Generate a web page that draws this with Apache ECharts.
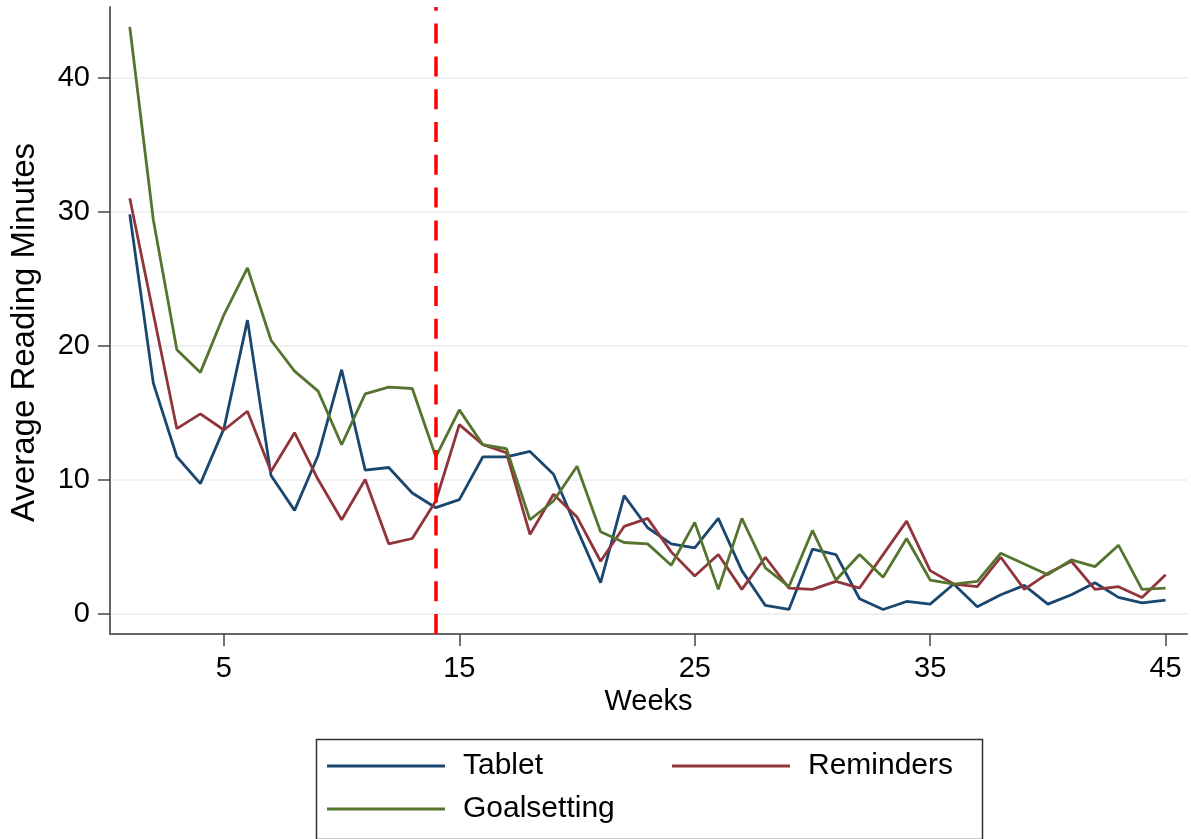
<!DOCTYPE html>
<html>
<head>
<meta charset="utf-8">
<script src="https://cdn.jsdelivr.net/npm/echarts@6/dist/echarts.min.js"></script>
<style>html,body{margin:0;padding:0;background:#fff}#c{width:1191px;height:839px}</style>
</head>
<body>
<div id="c"></div>
<script>
var weeks = [1,2,3,4,5,6,7,8,9,10,11,12,13,14,15,16,17,18,19,20,21,22,23,24,25,26,27,28,29,30,31,32,33,34,35,36,37,38,39,40,41,42,43,44,45];
var tablet = [29.8,17.2,11.7,9.7,13.8,21.9,10.3,7.7,11.8,18.2,10.7,10.9,9.0,7.9,8.5,11.7,11.7,12.1,10.4,6.3,2.3,8.8,6.4,5.2,4.9,7.1,3.2,0.6,0.3,4.8,4.4,1.1,0.3,0.9,0.7,2.2,0.5,1.4,2.1,0.7,1.4,2.3,1.2,0.8,1.0];
var reminders = [31.0,22.4,13.8,14.9,13.7,15.1,10.6,13.5,10.0,7.0,10.0,5.2,5.6,8.4,14.1,12.6,12.0,5.9,8.9,7.2,3.9,6.5,7.1,4.6,2.8,4.4,1.8,4.2,1.9,1.8,2.4,1.9,4.4,6.9,3.2,2.2,2.0,4.2,1.8,3.0,3.9,1.8,2.0,1.2,2.9];
var goalsetting = [43.8,29.4,19.7,18.0,22.3,25.8,20.4,18.1,16.6,12.6,16.4,16.9,16.8,11.7,15.2,12.6,12.3,7.0,8.4,11.0,6.1,5.3,5.2,3.6,6.8,1.8,7.1,3.4,2.0,6.2,2.5,4.4,2.7,5.6,2.5,2.2,2.4,4.5,3.7,2.9,4.0,3.5,5.1,1.8,1.9];
var xTicks = [5,15,25,35,45];
var yTicks = [0,10,20,30,40];
var cutoffWeek = 14;

function pairs(vals){ return weeks.map(function(w,i){ return [w, vals[i]]; }); }

var FONT = '"Liberation Sans", Arial, sans-serif';
var chart = echarts.init(document.getElementById('c'), null, {renderer:'canvas'});
var legendBase = {
  orient:'horizontal', padding:0, itemWidth:118, itemHeight:3, icon:'rect',
  textStyle:{fontFamily:FONT, fontSize:30, color:'#000', padding:[0,0,0,13]}
};
chart.setOption({
  animation:false,
  backgroundColor:'#fff',
  grid:{left:110, right:4, top:7, bottom:205, containLabel:false, outerBoundsMode:'none'},
  xAxis:{
    type:'value', min:0.16, max:45.91,
    name:'Weeks', nameLocation:'middle', nameGap:52,
    nameTextStyle:{fontFamily:FONT, fontSize:29, color:'#000'},
    axisLine:{show:true, onZero:false, lineStyle:{color:'#666', width:2}},
    axisTick:{show:true, length:12, customValues:xTicks, lineStyle:{color:'#444', width:1.5}},
    axisLabel:{customValues:xTicks, margin:20, fontFamily:FONT, fontSize:29, color:'#000'},
    splitLine:{show:false}
  },
  yAxis:{
    type:'value', min:-1.53, max:45.28,
    name:'Average Reading Minutes', nameLocation:'middle', nameGap:69,
    nameTextStyle:{fontFamily:FONT, fontSize:33, color:'#000', padding:[0,24,0,0]},
    axisLine:{show:true, onZero:false, lineStyle:{color:'#666', width:2}},
    axisTick:{show:true, length:12, customValues:yTicks, lineStyle:{color:'#444', width:1.5}},
    axisLabel:{customValues:yTicks, margin:20, fontFamily:FONT, fontSize:29, color:'#000'},
    splitLine:{show:true, lineStyle:{color:'#ebebeb', width:1.5}}
  },
  legend:[
    Object.assign({}, legendBase, {data:['Tablet'], left:327, top:751}),
    Object.assign({}, legendBase, {data:['Reminders'], left:672, top:751}),
    Object.assign({}, legendBase, {data:['Goalsetting'], left:327, top:794})
  ],
  graphic:[{
    type:'rect', left:314, top:737, silent:true,
    shape:{width:666, height:100},
    style:{fill:'none', stroke:'#333', lineWidth:1.5}
  }],
  series:[
    {name:'Tablet', type:'line', data:pairs(tablet), showSymbol:false, color:'#1a476f',
     lineStyle:{width:2.8, color:'#1a476f'}, z:3,
     markLine:{silent:true, symbol:['none','none'], label:{show:false},
       lineStyle:{color:'#ff0000', width:3.5, type:[20,12.8]}, data:[{xAxis:cutoffWeek}]}},
    {name:'Reminders', type:'line', data:pairs(reminders), showSymbol:false, color:'#90353b',
     lineStyle:{width:2.8, color:'#90353b'}, z:3},
    {name:'Goalsetting', type:'line', data:pairs(goalsetting), showSymbol:false, color:'#55752f',
     lineStyle:{width:2.8, color:'#55752f'}, z:3}
  ]
});
</script>
</body>
</html>
